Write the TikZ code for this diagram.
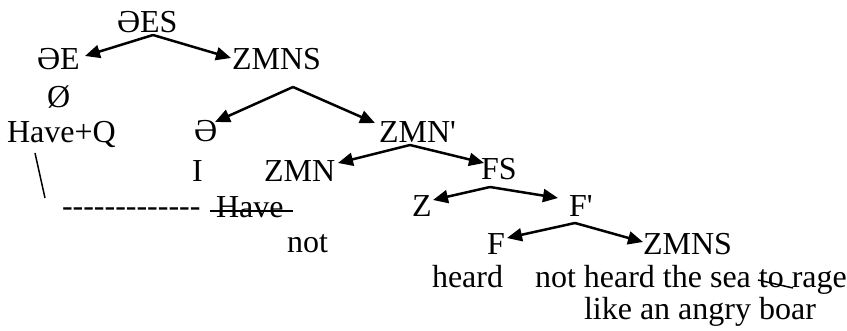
\documentclass[tikz,border=0pt]{standalone}
\usepackage{fontspec}
\newfontfamily\tnr{Liberation Serif}
\usetikzlibrary{arrows.meta}
\tikzset{
  lbl/.style={anchor=base west,inner sep=0pt,outer sep=0pt,font=\tnr\fontsize{32}{37}\selectfont},
  branch/.style={line width=2.5pt,-{Triangle[length=15pt,width=13pt]}},
  thinline/.style={line width=1.5pt}
}
\begin{document}
\begin{tikzpicture}[x=1pt,y=-1pt]
\useasboundingbox (0,0) rectangle (847,331);
% labels
\node[lbl] (ES) at (117,33) {ƏES};
\node[lbl] (E) at (37,70) {ƏE};
\node[lbl] (ZMNS1) at (232,70) {ZMNS};
\node[lbl] (O) at (47,108) {Ø};
\node[lbl] (HQ) at (7,143) {Have+Q};
\node[lbl] (Schwa) at (194,142) {Ə};
\node[lbl] (I) at (192,182) {I};
\node[lbl] (ZMN) at (264,182) {ZMN};
\node[lbl] (ZMNp) at (379,143) {ZMN'};
\node[lbl] (FS) at (481,180) {FS};
\node[lbl] (Z) at (412,217) {Z};
\node[lbl] (Fp) at (569,217) {F'};
\node[lbl] (F) at (487,255) {F};
\node[lbl] (ZMNS2) at (643,255) {ZMNS};
\node[lbl] (heard) at (432,288) {heard};
\node[lbl] (nhs) at (535,288) {not heard the sea to rage};
\node[lbl] (like) at (584,320) {like an angry boar};
\node[lbl] (not) at (287,253) {not};
\node[lbl] (Have) at (216,218) {Have};
\node[lbl] (dash) at (62,217) {-------------};
% branch points and arrow tips
\coordinate (a1) at (153,35);
\coordinate (t1l) at (85,56);
\coordinate (t1r) at (231,58);
\coordinate (a2) at (293,87);
\coordinate (t2l) at (215,122);
\coordinate (t2r) at (375,123);
\coordinate (a3) at (410,145);
\coordinate (t3l) at (338,163);
\coordinate (t3r) at (484,163);
\coordinate (a4) at (490,187);
\coordinate (t4l) at (433,200);
\coordinate (t4r) at (558,198);
\coordinate (a5) at (575,223);
\coordinate (t5l) at (507,238);
\coordinate (t5r) at (643,242);
\draw[branch] (a1) -- (t1l);
\draw[branch] (a1) -- (t1r);
\draw[branch] (a2) -- (t2l);
\draw[branch] (a2) -- (t2r);
\draw[branch] (a3) -- (t3l);
\draw[branch] (a3) -- (t3r);
\draw[branch] (a4) -- (t4l);
\draw[branch] (a4) -- (t4r);
\draw[branch] (a5) -- (t5l);
\draw[branch] (a5) -- (t5r);
% trace line and strikeouts
\coordinate (b1) at (35,153);
\coordinate (b2) at (45,198);
\draw[thinline] (b1) -- (b2);
\coordinate (s1) at (210,211);
\coordinate (s2) at (293,211);
\draw[thinline] (s1) -- (s2);
\coordinate (s3) at (758,280);
\coordinate (s4) at (793,288);
\draw[thinline] (s3) -- (s4);
\end{tikzpicture}
\end{document}
